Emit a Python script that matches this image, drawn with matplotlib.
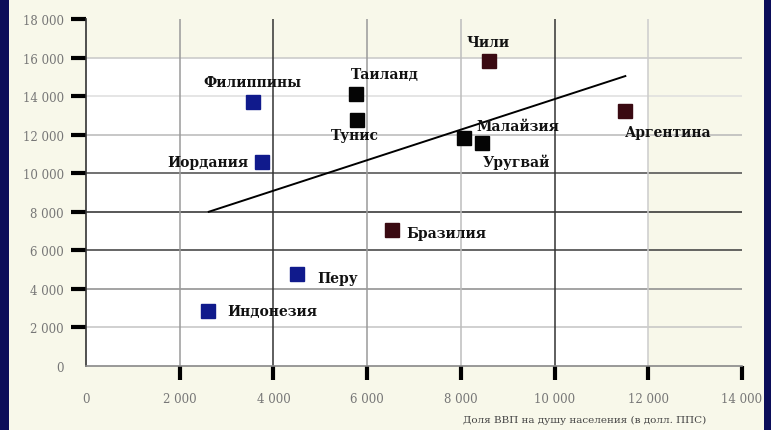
import matplotlib
matplotlib.use("Agg")
import matplotlib.pyplot as plt
from matplotlib.patches import Rectangle

# ---- data ----
countries = ["Филиппины", "Таиланд", "Тунис", "Чили", "Аргентина", "Малайзия",
             "Уругвай", "Иордания", "Бразилия", "Перу", "Индонезия"]
gdp_x = [3560, 5760, 5780, 8590, 11510, 8060, 8460, 3750, 6520, 4500, 2600]
val_y = [13700, 14100, 12760, 15820, 13230, 11830, 11570, 10580, 7050, 4770, 2850]
groups = ["blue", "black", "black", "brown", "brown", "black",
          "black", "blue", "brown", "blue", "blue"]
trend_x = [2620, 11510]
trend_y = [8000, 15040]
x_ticks = [0, 2000, 4000, 6000, 8000, 10000, 12000, 14000]
y_ticks = [0, 2000, 4000, 6000, 8000, 10000, 12000, 14000, 16000, 18000]
x_label = "Доля ВВП на душу населения (в долл. ППС)"

# ---- styles ----
group_colors = {"blue": "#101a8c", "black": "#050505", "brown": "#3a0a12"}
# label offsets in pixels and alignment
label_pos = {
    "Филиппины": (0, 20, "center"),
    "Таиланд": (-5, 20, "left"),
    "Тунис": (-2, -15, "center"),
    "Чили": (0, 19, "center"),
    "Аргентина": (0, -21, "left"),
    "Малайзия": (13, 12, "left"),
    "Уругвай": (0, -18, "left"),
    "Иордания": (-13, 0, "right"),
    "Бразилия": (15, -3, "left"),
    "Перу": (20, -4, "left"),
    "Индонезия": (19, 0, "left"),
}
hgrid_colors = {2000: "#c4c4c4", 4000: "#8a8a8a", 6000: "#3c3c3c", 8000: "#2a2a2a",
                10000: "#4a4a4a", 12000: "#b8b8b8", 14000: "#dedede", 16000: "#c8c8c8"}
vgrid_colors = {2000: "#9a9a9a", 4000: "#333333", 6000: "#9a9a9a", 8000: "#bdbdbd",
                10000: "#333333", 12000: "#cccccc"}

W, H = 771, 431
fig = plt.figure(figsize=(W / 100, H / 100), dpi=100, facecolor="#f8f8ea")
ax = fig.add_axes([86 / W, (H - 367) / H, (742 - 86) / W, (367 - 20) / H])
ax.set_facecolor("#f8f8ea")
ax.set_xlim(0, 14000)
ax.set_ylim(0, 18000)

# white plotting region
ax.add_patch(Rectangle((0, 0), 12000, 16000, facecolor="white", edgecolor="none", zorder=0))

for yv, c in hgrid_colors.items():
    ax.axhline(yv, color=c, lw=1.1, zorder=1)
for xv, c in vgrid_colors.items():
    ax.axvline(xv, color=c, lw=1.1, zorder=1)

for s in ["top", "right"]:
    ax.spines[s].set_visible(False)
ax.spines["left"].set_color("#333333")
ax.spines["bottom"].set_color("#888888")
ax.spines["left"].set_linewidth(1.2)
ax.spines["bottom"].set_linewidth(1.2)

ax.set_xticks(x_ticks)
ax.set_yticks(y_ticks)
fmt = lambda v: "0" if v == 0 else f"{v:,}".replace(",", " ")
ax.set_xticklabels([fmt(v) for v in x_ticks], family="DejaVu Serif", fontsize=8.5, color="#777777")
ax.set_yticklabels([fmt(v) for v in y_ticks], family="DejaVu Serif", fontsize=8.5, color="#777777")
ax.tick_params(axis="y", direction="out", length=11, width=3, color="black", pad=5)
ax.tick_params(axis="x", direction="out", length=10, width=3, color="black", pad=9)
# no tick marks at 0
ax.xaxis.get_major_ticks()[0].tick1line.set_visible(False)
ax.yaxis.get_major_ticks()[0].tick1line.set_visible(False)

# trend line
ax.plot(trend_x, trend_y, color="black", lw=1.4, zorder=3)

# points
for name, xv, yv, g in zip(countries, gdp_x, val_y, groups):
    ax.plot(xv, yv, marker="s", markersize=9.5, color=group_colors[g],
            markeredgecolor=group_colors[g], linestyle="none", zorder=4)
    dx, dy, ha = label_pos[name]
    ax.annotate(name, (xv, yv), xytext=(dx, dy), textcoords="offset pixels",
                ha=ha, va="center", family="DejaVu Serif", fontweight="bold",
                fontsize=10, color="#111111", zorder=5)

fig.text(585 / W, 1 - 420 / H, x_label, ha="center", va="center",
         family="DejaVu Serif", fontsize=7.5, color="#444444")

# dark blue frame on left and right
fig.patches.append(Rectangle((0, 0), 9 / W, 1, transform=fig.transFigure,
                             facecolor="#0c0e5a", edgecolor="none", zorder=10))
fig.patches.append(Rectangle((1 - 7 / W, 0), 7 / W, 1, transform=fig.transFigure,
                             facecolor="#0c0e5a", edgecolor="none", zorder=10))

fig.savefig("out.png", dpi=100, facecolor=fig.get_facecolor())
